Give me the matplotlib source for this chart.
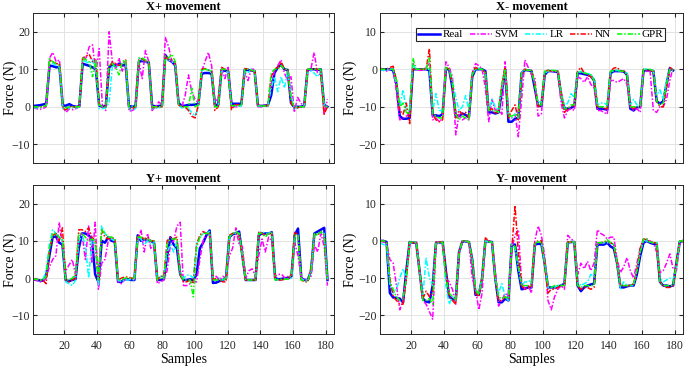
import numpy as np
import matplotlib
matplotlib.use("Agg")
import matplotlib.pyplot as plt

plt.rcParams['font.family'] = ['Liberation Serif', 'DejaVu Serif']

series_names = ["Real", "SVM", "LR", "NN", "GPR"]
titles = ["X+ movement", "X- movement", "Y+ movement", "Y- movement"]

# ---------------- X+ movement (samples 1,3,...,179) ----------------
xp_samples = list(range(1, 180, 2))
xp_real = [0.2, 0.3, 0.4, 0.6, 0.8, 11.0, 10.8, 10.5, 10.6, 0.3,
           0.3, 0.7, 0.2, 0.0, 0.1, 11.5, 11.2, 10.9, 10.5, 10.0,
           0.3, 0.0, 0.2, 10.5, 11.2, 11.0, 11.5, 11.0, 11.3, 0.2,
           0.0, 0.1, 12.0, 12.2, 12.0, 11.8, 0.3, 0.1, 0.2, 0.3,
           13.8, 12.5, 12.0, 11.0, 1.0, 0.2, 0.3, 0.5, 0.5, 0.6,
           0.7, 8.8, 9.0, 9.0, 8.8, 0.5, 0.5, 9.7, 9.6, 9.5,
           0.8, 0.8, 0.8, 0.8, 9.8, 9.8, 9.7, 9.5, 0.3, 0.2,
           0.3, 0.4, 3.0, 9.0, 10.5, 11.2, 10.0, 9.8, 1.0, -0.1,
           0.0, 0.0, 0.3, 9.8, 10.0, 10.0, 9.8, 10.0, 0.5, 0.0]
xp_svm = [-0.3, -0.5, -0.7, -0.5, 0.0, 13.0, 14.5, 12.0, 12.5, 0.0,
          -1.5, -0.5, -0.8, -0.5, 0.0, 12.5, 13.0, 16.0, 16.5, 9.0,
          15.5, 0.0, -1.0, 20.0, 12.0, 10.0, 13.0, 9.5, 12.0, -1.2,
          -1.0, -0.5, 12.0, 7.5, 15.0, 12.0, -1.0, 0.0, 1.3, 0.5,
          18.5, 16.0, 12.0, 11.0, 0.5, 0.0, 3.0, 8.5, 4.0, 2.0,
          1.0, 9.5, 12.0, 14.5, 11.0, 1.5, 2.0, 10.5, 7.5, 10.5,
          0.0, 0.0, 0.0, 0.3, 9.5, 7.0, 10.0, 10.0, 0.0, 0.0,
          0.2, 0.3, 6.0, 9.5, 11.0, 12.5, 9.0, 7.0, 8.0, -1.5,
          2.5, 1.0, 0.0, 9.5, 10.0, 14.5, 9.0, 8.5, -2.0, 2.0]
xp_lr = [-0.3, -0.3, -0.3, 0.0, 0.3, 12.5, 11.5, 11.0, 10.5, -0.5,
         -0.8, -0.3, -0.3, -0.3, 0.0, 12.5, 12.0, 11.5, 12.5, 10.0,
         -0.5, -0.5, -0.3, 1.0, 11.0, 10.5, 11.0, 11.5, 12.0, -0.8,
         -0.8, -0.5, 13.0, 12.5, 12.0, 11.5, -0.5, -0.5, -0.3, 0.0,
         13.0, 12.5, 12.0, 11.5, 0.5, -0.3, -0.3, -0.5, -1.5, -2.5,
         0.0, 9.5, 10.0, 10.0, 9.0, 0.0, 0.0, 9.5, 10.0, 9.0,
         0.2, 0.2, 0.2, 0.2, 9.5, 9.0, 10.0, 9.5, 0.2, 0.2,
         0.2, 0.2, 5.0, 8.0, 4.0, 8.0, 5.0, 9.5, 3.0, -0.5,
         -0.3, 0.0, 0.0, 9.0, 9.5, 9.0, 8.0, 9.5, 0.5, 0.0]
xp_nn = [0.0, 0.0, 0.0, 0.0, 0.3, 12.5, 12.0, 11.5, 11.5, -0.5,
         -0.8, 0.0, 0.0, 0.0, 0.0, 13.0, 13.5, 14.0, 12.0, 12.5,
         0.5, 0.0, 0.0, 10.5, 12.0, 11.5, 11.0, 11.5, 12.5, -0.5,
         -0.5, 0.0, 12.5, 12.8, 12.0, 12.0, -0.3, 0.0, 0.0, 0.0,
         13.5, 12.5, 12.5, 12.0, 0.5, 0.0, 0.0, -1.0, -2.5, -3.0,
         0.5, 10.0, 10.2, 9.8, 9.5, -1.0, 0.0, 10.5, 10.0, 9.8,
         -0.8, 0.5, 0.5, 0.5, 10.2, 10.0, 9.5, 9.5, 0.3, 0.3,
         0.3, 0.3, 8.0, 10.0, 10.5, 12.0, 10.0, 10.0, 1.0, -0.3,
         -0.3, 0.0, 0.0, 10.0, 10.0, 10.2, 10.0, 9.8, -2.0, 0.0]
xp_gpr = [0.0, 0.0, 0.0, 0.0, 0.3, 12.8, 12.0, 11.5, 11.0, 0.0,
          -0.3, 0.0, 0.0, 0.0, 0.0, 13.0, 12.5, 12.0, 8.0, 12.5,
          0.5, 0.0, 0.0, 11.0, 11.5, 10.5, 8.5, 12.0, 12.5, 0.0,
          0.0, 0.0, 13.0, 13.0, 12.5, 12.0, 0.0, 0.0, 0.0, 0.0,
          13.5, 13.0, 14.0, 12.0, 0.5, 0.0, 0.0, 0.0, 5.0, 0.0,
          0.5, 10.0, 10.0, 9.8, 9.5, 0.0, 0.0, 10.0, 10.0, 9.5,
          0.3, 0.3, 0.3, 0.3, 10.0, 10.0, 9.8, 9.5, 0.2, 0.2,
          0.2, 0.2, 9.0, 10.0, 10.0, 11.0, 10.0, 10.0, 2.0, 0.0,
          0.0, 0.0, 0.0, 10.0, 10.0, 10.0, 10.0, 10.0, 0.0, 0.0]

# ---------------- X- movement (samples 1,3,...,179) ----------------
xm_samples = list(range(1, 180, 2))
xm_real = [0.0, 0.0, 0.0, 0.0, -0.3, -4.0, -12.5, -13.2, -13.2, -13.0,
           0.0, 0.0, 0.0, 0.0, 0.0, -0.3, -12.3, -12.3, -12.5, -12.0,
           0.0, 0.0, -5.0, -12.5, -12.5, -11.8, -12.2, -12.8, -2.0, 0.0,
           0.0, 0.0, -0.5, -11.5, -11.5, -11.8, -11.5, -6.0, 0.0, -14.0,
           -14.0, -13.2, -13.0, -1.0, -0.2, -0.3, -0.5, -5.0, -9.8, -9.8,
           -1.5, -0.5, -0.5, -0.6, -0.7, -7.0, -10.5, -10.5, -10.3, -9.8,
           -1.0, -1.1, -1.3, -1.5, -1.8, -3.0, -10.5, -10.5, -10.6, -10.8,
           -1.0, -0.5, -0.5, -0.5, -0.6, -1.5, -10.5, -11.0, -10.2, -10.0,
           -0.3, -0.3, -0.3, -0.5, -8.5, -9.2, -8.5, -4.0, 0.3, -0.3]
xm_svm = [0.5, -0.3, -0.5, 0.0, 0.2, -6.0, -13.5, -13.0, -12.5, -12.0,
          1.5, 0.0, -0.3, -0.2, 0.5, 1.5, -13.5, -13.0, -14.0, -13.0,
          2.0, 0.5, -2.0, -17.5, -12.0, -13.5, -13.0, -13.5, -1.0, 1.5,
          1.0, 0.0, -5.0, -14.0, -8.0, -11.0, -10.5, -12.0, 2.0, -12.0,
          -13.0, -12.0, -18.0, -8.0, 2.5, 0.5, -1.5, -2.0, -12.5, -12.0,
          -1.0, -0.3, -0.5, -0.5, -0.8, -9.0, -13.0, -11.0, -10.5, -11.0,
          -2.0, -2.5, -3.5, -2.0, -4.0, -5.0, -11.0, -11.0, -11.5, -12.0,
          -3.0, -3.0, -3.5, -3.0, -2.5, -4.0, -10.0, -11.0, -10.5, -11.5,
          -1.0, -0.5, -0.5, -11.0, -11.5, -10.0, -10.0, -8.0, -3.0, 0.5]
xm_lr = [0.0, -0.3, -0.3, 0.0, 0.0, -4.0, -10.0, -5.5, -11.0, -11.0,
         1.0, 0.0, 0.0, 0.0, 0.0, 0.0, -11.0, -6.5, -11.0, -11.0,
         0.5, 0.0, -3.0, -7.5, -11.0, -10.0, -7.0, -11.0, -1.0, 0.0,
         0.3, 0.0, -1.0, -11.0, -8.0, -10.0, -11.0, -5.0, 0.0, -12.0,
         -13.0, -12.0, -12.5, -1.0, 0.0, -0.3, -0.3, -4.0, -9.0, -8.5,
         -1.0, -0.5, -0.5, -0.3, -0.5, -6.0, -10.0, -9.0, -6.5, -7.5,
         -1.0, -0.5, -1.0, -1.0, -1.5, -2.5, -9.5, -9.0, -9.0, -9.5,
         -0.5, -0.5, -0.3, -0.5, -0.5, -1.0, -9.5, -8.0, -9.5, -9.5,
         0.0, 0.0, -0.3, -0.5, -7.0, -5.5, -8.0, -3.0, 0.0, 0.0]
xm_nn = [0.0, 0.0, 0.0, 0.5, 0.8, -3.0, -11.0, -12.0, -9.0, -14.5,
         0.0, 0.0, 0.0, 0.0, 0.0, 5.5, -12.0, -13.5, -14.0, -13.5,
         0.5, 0.0, -4.0, -13.0, -11.0, -12.0, -11.5, -13.0, -1.0, 0.5,
         0.0, 0.0, -1.0, -11.0, -10.5, -12.0, -11.0, -4.0, 0.5, -13.0,
         -11.0, -9.5, -13.5, -1.5, 0.0, -0.3, -0.3, -4.0, -10.0, -9.5,
         -0.5, -0.3, -0.5, -0.5, -0.5, -6.0, -11.5, -10.5, -10.0, -9.5,
         -0.5, 0.5, -1.0, -1.5, -2.0, -3.0, -10.0, -10.0, -10.5, -10.5,
         -0.5, 0.3, 0.5, -0.5, -0.5, -1.5, -10.0, -10.5, -10.0, -10.0,
         0.0, -0.3, -0.3, -0.5, -8.5, -10.0, -10.0, -5.0, 0.5, -0.3]
xm_gpr = [0.0, 0.0, 0.0, 0.0, 0.0, -3.0, -10.0, -9.0, -11.5, -12.0,
          3.0, 0.0, 0.0, 0.0, 0.0, 3.0, -12.0, -12.5, -13.0, -13.0,
          0.5, 0.0, -4.0, -12.0, -13.5, -12.5, -13.0, -13.5, -1.5, 0.0,
          0.0, 0.0, -1.0, -11.0, -11.0, -11.0, -11.5, -4.0, 0.0, -12.5,
          -12.5, -12.0, -13.0, -1.0, 0.0, -0.3, -0.3, -4.0, -9.5, -9.5,
          -0.5, -0.3, -0.3, -0.3, -0.5, -7.0, -10.5, -10.5, -9.5, -9.5,
          -0.8, -0.8, -1.0, -1.2, -1.5, -3.0, -10.0, -10.0, -10.0, -10.0,
          -0.5, -0.3, -0.3, -0.5, -0.5, -1.5, -10.0, -10.0, -10.0, -10.0,
          0.0, 0.0, 0.0, -0.5, -8.5, -9.5, -9.0, -4.0, 0.0, -0.3]

# ---------------- Y+ movement (samples 1,3,...,181) ----------------
yp_samples = list(range(1, 182, 2))
yp_real = [-0.3, -0.5, -0.6, -0.7, 0.5, 6.0, 11.0, 11.2, 9.5, 9.0,
           -0.5, -0.8, -0.5, -0.3, 8.0, 12.0, 12.0, 11.5, 10.5, 1.0,
           -1.0, 10.0, 9.5, 11.0, 10.0, 9.8, -1.0, -1.0, -0.3, -0.3,
           -0.5, -0.5, 11.5, 10.0, 10.5, 10.0, 10.0, 9.5, -0.5, -0.5,
           -0.3, 6.0, 11.0, 9.0, 8.0, 1.0, -0.5, -0.5, -0.3, -0.5,
           1.0, 8.0, 9.5, 11.5, 12.8, -1.3, -1.2, -0.8, -0.5, 0.0,
           11.0, 11.8, 12.0, 12.5, 6.0, -0.5, -0.5, -0.5, -0.5, 11.5,
           12.0, 12.0, 12.0, 12.3, 0.0, -0.3, -0.2, 0.0, 0.0, 0.5,
           11.5, 13.3, 0.0, -0.5, -0.5, 2.0, 12.0, 12.5, 13.0, 13.5,
           -0.5]
yp_svm = [-0.5, -0.5, -1.0, -1.0, 0.0, 3.0, 5.0, 6.0, 15.0, 9.0,
          2.0, 3.5, 5.0, 1.0, 11.0, 12.0, 5.0, 14.0, 4.0, 15.0,
          -3.0, 4.0, 5.0, 10.0, 11.0, 10.0, -1.0, -1.5, -0.5, 0.0,
          -0.3, -0.3, 10.0, 13.0, 7.0, 12.0, 8.0, 9.0, -1.5, -1.0,
          -0.5, 2.0, 9.0, 10.0, 14.0, 15.0, -2.0, -2.0, -1.5, -1.0,
          -1.0, 5.0, 10.0, 12.0, 12.0, 0.0, 0.5, -0.5, 0.5, 0.0,
          6.0, 8.0, 13.5, 9.0, 8.5, 0.0, 2.0, 2.5, 0.5, 6.0,
          10.5, 7.0, 11.0, 10.0, 0.5, 1.0, 1.0, 0.0, 0.5, 1.0,
          9.5, 6.0, 0.0, -0.5, -0.5, 0.5, 9.0, 7.0, 12.0, 8.5,
          -2.0]
yp_lr = [-0.3, -0.3, -0.5, -0.5, 2.0, 9.0, 13.0, 12.0, 11.0, 10.0,
         -1.0, -1.5, -2.0, -0.5, 10.0, 11.5, 9.0, 0.0, 10.0, 9.0,
         -2.0, 14.0, 12.0, 11.0, 10.5, 10.0, -0.5, -1.0, -0.5, -0.5,
         -0.3, -0.5, 11.0, 10.5, 9.0, 10.0, 9.0, 9.5, -0.5, 0.5,
         0.3, 7.0, 9.0, 7.0, 10.0, 1.0, 0.0, 0.8, 0.8, 0.0,
         9.0, 11.0, 12.0, 12.0, 12.5, -0.5, -0.5, 0.0, -0.5, 0.0,
         11.0, 12.0, 12.0, 12.0, 6.0, -0.5, -0.5, -0.3, -0.3, 12.0,
         12.5, 12.0, 12.0, 12.5, -0.5, -0.5, -0.5, -0.3, -0.3, 0.0,
         11.0, 11.5, -0.3, -0.5, -0.5, 2.0, 11.5, 12.0, 12.0, 12.0,
         -0.5]
yp_nn = [-0.3, -0.3, -0.5, -0.5, -1.5, 7.0, 11.5, 12.0, 10.0, 13.5,
         -0.5, -1.0, -0.5, 0.0, 13.0, 13.0, 12.5, 13.5, 11.0, 10.0,
         -0.5, 13.0, 11.0, 10.5, 11.0, 10.5, -0.5, 0.0, 0.3, 0.3,
         0.0, 0.0, 11.5, 11.0, 10.5, 11.0, 10.0, 10.0, -0.5, 0.5,
         0.5, 10.0, 11.0, 10.5, 11.0, 1.0, -1.0, -1.0, -0.5, -1.5,
         9.0, 11.5, 12.5, 12.0, 12.0, -0.5, 0.0, -0.5, -1.0, -1.0,
         11.5, 12.0, 12.0, 11.5, 6.0, -0.5, -0.5, -0.5, -0.5, 12.5,
         12.0, 11.5, 12.0, 12.0, -0.5, -0.5, -0.5, -0.3, -0.3, 1.0,
         12.5, 11.5, -0.5, -1.0, -1.0, 3.0, 12.0, 11.5, 12.5, 11.5,
         -0.5]
yp_gpr = [-0.3, -0.3, -0.5, -0.5, 0.5, 8.0, 12.0, 12.0, 11.0, 10.5,
          -0.5, -0.5, 0.0, 1.0, 12.0, 12.0, 11.0, 10.0, 10.5, 10.0,
          -0.5, 13.0, 12.0, 11.0, 11.0, 10.5, -0.5, -0.5, 0.0, 0.0,
          0.0, 0.0, 11.0, 11.0, 10.5, 10.5, 10.0, 10.0, -0.5, 0.0,
          0.0, 9.0, 10.5, 10.5, 10.5, 1.0, -0.5, -0.5, -0.5, -5.0,
          8.0, 11.0, 12.0, 12.0, 12.0, -0.5, -0.5, -0.5, -0.5, 0.0,
          11.0, 12.0, 12.5, 12.0, 6.0, -0.5, -0.5, -0.5, -0.5, 12.0,
          12.0, 11.0, 12.0, 12.0, -0.5, -0.3, -0.3, -0.3, -0.3, 1.0,
          11.5, 11.5, -0.5, -0.8, -0.8, 2.0, 12.0, 11.5, 12.5, 11.5,
          -0.5]

# ---------------- Y- movement (samples 1,3,...,185) ----------------
ym_samples = list(range(1, 186, 2))
ym_real = [0.0, 0.0, -0.3, -14.0, -15.2, -15.3, -15.5, -16.5, -8.0, -0.3,
           -0.5, -0.5, -8.0, -15.5, -16.3, -16.5, -12.0, -0.5, -0.5, -0.3,
           -8.0, -15.0, -15.5, -16.0, -3.0, -0.2, -0.2, -0.3, -5.0, -14.5,
           -14.5, -10.0, 0.0, -0.2, -0.3, -10.0, -16.5, -16.5, -15.5, -16.0,
           -1.0, -1.0, -8.0, -13.0, -12.8, -12.5, -12.5, -1.0, -0.8, -0.8,
           -6.0, -12.5, -12.5, -12.5, -12.3, -12.0, -11.5, -0.5, -0.3, -0.3,
           -12.0, -13.5, -12.5, -12.0, -11.7, -11.5, -1.0, -1.0, -1.0, -0.5,
           -1.5, -2.0, -6.0, -12.5, -12.5, -12.2, -12.0, -12.0, -9.0, -4.0,
           -0.5, 0.0, -0.5, -0.8, -0.8, -11.0, -12.0, -12.0, -12.2, -12.0,
           -6.0, -0.3, 0.0]
ym_svm = [0.0, -0.3, -0.5, -5.0, -6.0, -12.0, -18.5, -16.0, -10.0, -0.5,
          -0.5, -0.5, -8.0, -16.0, -17.0, -19.0, -21.0, -1.0, -0.5, -0.3,
          -10.0, -11.0, -13.0, -17.0, -3.0, 0.0, -0.3, -0.3, -10.0, -13.0,
          -18.5, -14.0, 0.0, 0.0, -0.5, -8.0, -17.5, -16.0, -14.0, -15.0,
          -2.0, 1.5, 3.0, -11.0, -13.0, -12.0, -14.0, 0.0, 4.0, 1.5,
          -4.0, -16.0, -18.5, -15.0, -13.0, -12.0, -13.0, 1.5, 0.5, 0.0,
          -9.0, -6.0, -7.5, -5.5, -8.0, -6.0, 3.0, 2.0, 1.5, 0.5,
          1.0, 1.0, -5.0, -8.5, -7.0, -4.5, -8.0, -10.0, -6.0, -2.0,
          0.5, 0.5, 0.0, -0.5, -3.0, -8.5, -8.0, -6.0, -3.5, -7.5,
          -8.0, -1.0, 0.0]
ym_lr = [-0.5, -1.0, -1.0, -12.0, -14.0, -13.0, -10.0, -7.5, -10.0, -0.5,
         -0.5, -0.5, -8.0, -15.0, -4.5, -10.0, -12.0, -0.5, -0.5, -0.5,
         -12.0, -17.0, -15.0, -15.5, -3.0, -0.3, -0.3, -0.3, -5.0, -13.5,
         -14.0, -10.0, 0.0, -0.3, -0.3, -10.0, -14.0, -11.5, -15.0, -16.0,
         -1.0, -2.0, -7.0, -12.0, -11.0, -11.0, -10.5, -1.0, -0.3, -0.3,
         -6.0, -12.5, -12.5, -12.5, -12.0, -12.0, -11.5, -0.5, -0.3, -0.3,
         -11.0, -12.0, -11.5, -11.0, -9.0, -9.5, -1.0, -0.5, -0.5, -0.5,
         -0.5, -1.0, -6.0, -13.0, -11.0, -12.0, -12.0, -12.0, -8.0, -3.0,
         0.0, 0.0, -0.3, -0.5, -0.5, -10.0, -11.0, -10.5, -10.0, -10.5,
         -7.0, 0.0, 0.0]
ym_nn = [0.0, 0.0, -0.3, -10.0, -15.0, -16.0, -17.0, -17.0, -10.0, -0.3,
         -0.5, -0.5, -8.0, -15.5, -13.5, -15.0, -14.0, -0.3, -0.3, -0.3,
         -8.0, -15.0, -16.0, -17.0, -3.0, 0.0, 0.0, -0.3, -5.0, -14.0,
         -15.0, -10.0, 0.8, 0.0, -0.3, -10.0, -16.0, -16.0, -15.0, -15.5,
         -2.5, 9.5, -3.0, -12.0, -13.0, -12.5, -12.0, -0.5, 0.0, 0.0,
         -6.0, -14.0, -13.0, -13.0, -12.5, -12.0, -12.0, -0.3, -0.3, -0.3,
         -12.0, -13.0, -12.5, -12.5, -13.0, -12.5, -0.5, -0.5, -0.3, 0.0,
         -0.5, -1.0, -6.0, -12.0, -12.0, -12.0, -12.0, -11.5, -8.0, -2.0,
         0.5, 0.3, -0.3, -0.5, -0.5, -11.0, -12.0, -12.5, -12.5, -12.0,
         -6.0, 0.0, 0.0]
ym_gpr = [0.0, 0.0, -0.3, -11.0, -13.0, -15.0, -16.0, -15.5, -10.0, -0.3,
          -0.3, -0.3, -8.0, -16.0, -16.0, -15.5, -17.0, -0.5, -0.5, -0.3,
          -10.0, -14.0, -15.0, -16.0, -3.0, 0.0, 0.0, -0.3, -5.0, -13.0,
          -14.5, -10.0, 0.0, -0.3, -0.3, -10.0, -15.0, -15.5, -15.0, -15.5,
          -1.0, -1.5, -7.0, -12.0, -12.0, -12.0, -12.0, -0.5, -0.3, -0.3,
          -6.0, -12.0, -12.5, -12.0, -12.0, -12.0, -12.0, -0.3, -0.3, -0.3,
          -12.0, -12.5, -12.0, -12.0, -12.0, -12.0, -0.5, -0.5, -0.3, 0.3,
          -0.5, -1.0, -6.0, -12.0, -12.0, -12.0, -12.0, -11.5, -8.0, -3.0,
          0.5, 0.5, -0.3, -0.5, -0.5, -11.0, -12.0, -12.0, -12.0, -12.0,
          -6.0, 0.0, 0.0]

panels = [
    (xp_samples, [xp_real, xp_svm, xp_lr, xp_nn, xp_gpr]),
    (xm_samples, [xm_real, xm_svm, xm_lr, xm_nn, xm_gpr]),
    (yp_samples, [yp_real, yp_svm, yp_lr, yp_nn, yp_gpr]),
    (ym_samples, [ym_real, ym_svm, ym_lr, ym_nn, ym_gpr]),
]
ylims = [(-15, 25), (-25, 15), (-15, 25), (-25, 15)]
yticks = [[-10, 0, 10, 20], [-20, -10, 0, 10], [-10, 0, 10, 20], [-20, -10, 0, 10]]
xticks = [20, 40, 60, 80, 100, 120, 140, 160, 180]

colors = ['#0000ff', '#ff00ff', '#00ffff', '#ff0000', '#00ff00']
dash = (0, (3.5, 1.2, 1.0, 1.2))
styles = ['-', dash, dash, dash, dash]
widths = [1.8, 1.1, 1.1, 1.1, 1.1]

fig = plt.figure(figsize=(6.85, 3.67), dpi=100)
W, H = 685.0, 367.0
rects = [
    [33/W, 1-163/H, 301/W, 150/H],
    [380/W, 1-163/H, 303/W, 150/H],
    [33/W, 1-334/H, 301/W, 149/H],
    [380/W, 1-334/H, 303/W, 149/H],
]
xlims = [(1, 183), (1, 185), (1, 185), (1, 185)]
ylabel_right_px = [17, 357, 17, 357]

for i, (rect, (xs, ys)) in enumerate(zip(rects, panels)):
    ax = fig.add_axes(rect)
    for name, y, c, ls, lw in zip(series_names, ys, colors, styles, widths):
        ax.plot(xs, y, color=c, linestyle=ls, linewidth=lw, label=name)
    ax.set_xlim(*xlims[i])
    ax.set_ylim(*ylims[i])
    ax.set_yticks(yticks[i])
    ax.set_xticks(xticks)
    ax.grid(True, color='#e3e3e3', linewidth=0.7)
    ax.set_axisbelow(True)
    ax.tick_params(direction='in', length=3, labelsize=8.5, colors='#262626',
                   top=True, right=True)
    ax.tick_params(axis='y', pad=2)
    ax.tick_params(axis='x', pad=4)
    for s in ax.spines.values():
        s.set_color('#262626')
        s.set_linewidth(0.7)
    ax.set_title(titles[i], fontsize=9, fontweight='bold', pad=2)
    ax.set_ylabel('Force (N)', fontsize=10)
    axw_px = rect[2] * W
    ax.yaxis.set_label_coords((ylabel_right_px[i] - rect[0] * W) / axw_px, 0.5)
    if i < 2:
        ax.set_xticklabels([])
    else:
        ax.set_xlabel('Samples', fontsize=10, labelpad=1)
    if i == 1:
        leg = ax.legend(loc='upper right', bbox_to_anchor=(0.941, 0.9), ncol=5,
                        fontsize=8, frameon=True, fancybox=False,
                        edgecolor='#262626', handlelength=2.0,
                        handletextpad=0.2, columnspacing=0.6, borderpad=0.15,
                        borderaxespad=0.0, framealpha=1)
        leg.get_frame().set_linewidth(0.8)

fig.savefig('out.png', dpi=100)
